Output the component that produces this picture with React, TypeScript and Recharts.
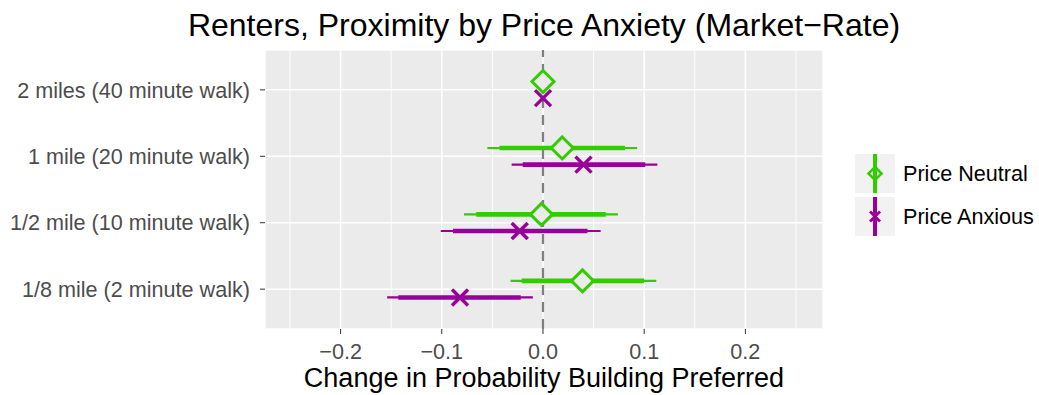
import React from 'react';
import { ScatterChart, Scatter, XAxis, YAxis, ErrorBar, ReferenceLine, CartesianGrid } from 'recharts';

// bottom to top, positions 1..4 on the y scale
const categories = [
  '1/8 mile (2 minute walk)',
  '1/2 mile (10 minute walk)',
  '1 mile (20 minute walk)',
  '2 miles (40 minute walk)',
];

// Price Neutral
const neutralEst = [0.039, -0.0015, 0.019, 0];
const neutralLo95 = [-0.032, -0.078, -0.055, 0];
const neutralHi95 = [0.112, 0.074, 0.093, 0];
const neutralLo90 = [-0.021, -0.066, -0.043, 0];
const neutralHi90 = [0.1, 0.062, 0.081, 0];

// Price Anxious
const anxiousEst = [-0.082, -0.023, 0.04, 0];
const anxiousLo95 = [-0.154, -0.101, -0.031, 0];
const anxiousHi95 = [-0.01, 0.057, 0.113, 0];
const anxiousLo90 = [-0.143, -0.089, -0.02, 0];
const anxiousHi90 = [-0.022, 0.044, 0.101, 0];

const xTicks = [-0.2, -0.1, 0, 0.1, 0.2];
const xMinor = [-0.25, -0.15, -0.05, 0.05, 0.15, 0.25];

const GREEN = '#33CC00';
const PURPLE = '#990099';
const FONT = '"Liberation Sans", Arial, Helvetica, sans-serif';
const DODGE = 0.125;

const buildSeries = (est: number[], lo95: number[], hi95: number[], lo90: number[], hi90: number[], offset: number) =>
  categories.map((c, i) => ({
    name: c,
    y: i + 1 + offset,
    x: est[i],
    wide: [est[i] - lo95[i], hi95[i] - est[i]],
    narrow: [est[i] - lo90[i], hi90[i] - est[i]],
  }));

const neutralData = buildSeries(neutralEst, neutralLo95, neutralHi95, neutralLo90, neutralHi90, DODGE);
const anxiousData = buildSeries(anxiousEst, anxiousLo95, anxiousHi95, anxiousLo90, anxiousHi90, -DODGE);

const Diamond = (props: any) => {
  const { cx, cy } = props;
  const r = 11;
  return (
    <polygon
      points={`${cx},${cy - r} ${cx + r},${cy} ${cx},${cy + r} ${cx - r},${cy}`}
      fill="#EBEBEB"
      stroke={GREEN}
      strokeWidth={3}
    />
  );
};

const Cross = (props: any) => {
  const { cx, cy } = props;
  const r = 8;
  return (
    <g stroke={PURPLE} strokeWidth={3.4}>
      <line x1={cx - r} y1={cy - r} x2={cx + r} y2={cy + r} />
      <line x1={cx - r} y1={cy + r} x2={cx + r} y2={cy - r} />
    </g>
  );
};

const legendItems = [
  { name: 'Price Neutral', color: GREEN, kind: 'diamond' },
  { name: 'Price Anxious', color: PURPLE, kind: 'cross' },
];

// legend drawn next to the panel, like ggplot's guide
const LegendBox = () => (
  <div
    style={{
      position: 'absolute',
      left: 855,
      top: 154,
      display: 'flex',
      flexDirection: 'column',
      gap: 4,
      fontFamily: FONT,
      fontSize: 21.6,
      color: '#000',
    }}
  >
    {legendItems.map((it) => (
      <div key={it.name} style={{ display: 'flex', alignItems: 'center', whiteSpace: 'nowrap' }}>
        <svg width={40} height={39} style={{ display: 'block' }}>
          <rect width={40} height={39} fill="#F2F2F2" />
          <line x1={20} x2={20} y1={0} y2={39} stroke={it.color} strokeWidth={4} />
          {it.kind === 'diamond' ? (
            <polygon points="20,13 26.5,19.5 20,26 13.5,19.5" fill="none" stroke={it.color} strokeWidth={2.6} />
          ) : (
            <g stroke={it.color} strokeWidth={2.8}>
              <line x1={15} y1={14.5} x2={25} y2={24.5} />
              <line x1={15} y1={24.5} x2={25} y2={14.5} />
            </g>
          )}
        </svg>
        <span style={{ marginLeft: 8 }}>{it.name}</span>
      </div>
    ))}
  </div>
);

export default function App() {
  return (
    <div style={{ position: 'absolute', left: 0, top: 0, width: 1039, height: 395, background: '#fff' }}>
      <div
        style={{
          position: 'absolute',
          left: -56,
          width: 1200,
          top: 9,
          textAlign: 'center',
          fontFamily: FONT,
          fontSize: 32,
          lineHeight: 1,
          whiteSpace: 'nowrap',
          color: '#000',
        }}
      >
        Renters, Proximity by Price Anxiety (Market−Rate)
      </div>
      <ScatterChart width={1039} height={395} margin={{ top: 50, right: 216, bottom: 0, left: 0 }}>
        <CartesianGrid fill="#EBEBEB" stroke="#FFFFFF" strokeWidth={1.5} />
        {xMinor.map((v) => (
          <ReferenceLine key={v} x={v} stroke="#FFFFFF" strokeWidth={0.9} />
        ))}
        <ReferenceLine x={0} stroke="#7F7F7F" strokeWidth={2.2} strokeDasharray="10 7" />
        <XAxis
          type="number"
          dataKey="x"
          domain={[-0.2747, 0.2767]}
          allowDataOverflow
          ticks={xTicks}
          tickFormatter={(v: number) => (v < 0 ? '−' + Math.abs(v).toFixed(1) : v.toFixed(1))}
          height={66}
          axisLine={false}
          tickSize={5}
          tickMargin={10}
          tickLine={{ stroke: '#333333', strokeWidth: 1 }}
          tick={{ fill: '#4D4D4D', fontSize: 21.6, fontFamily: FONT }}
          label={{
            value: 'Change in Probability Building Preferred',
            position: 'insideBottom',
            offset: 8,
            fill: '#000',
            fontSize: 27,
            fontFamily: FONT,
          }}
        />
        <YAxis
          type="number"
          dataKey="y"
          domain={[0.4, 4.6]}
          allowDataOverflow
          ticks={[1, 2, 3, 4]}
          tickFormatter={(v: number) => categories[Math.round(v) - 1] ?? ''}
          width={265}
          axisLine={false}
          tickSize={5}
          tickMargin={10}
          tickLine={{ stroke: '#333333', strokeWidth: 1 }}
          tick={{ fill: '#4D4D4D', fontSize: 21.6, fontFamily: FONT }}
        />
        <Scatter name="Price Anxious" data={anxiousData} shape={Cross} isAnimationActive={false}>
          <ErrorBar dataKey="wide" direction="x" width={0} stroke={PURPLE} strokeWidth={2.2} isAnimationActive={false} />
          <ErrorBar dataKey="narrow" direction="x" width={0} stroke={PURPLE} strokeWidth={4.6} isAnimationActive={false} />
        </Scatter>
        <Scatter name="Price Neutral" data={neutralData} shape={Diamond} isAnimationActive={false}>
          <ErrorBar dataKey="wide" direction="x" width={0} stroke={GREEN} strokeWidth={2.2} isAnimationActive={false} />
          <ErrorBar dataKey="narrow" direction="x" width={0} stroke={GREEN} strokeWidth={4.6} isAnimationActive={false} />
        </Scatter>
      </ScatterChart>
      <LegendBox />
    </div>
  );
}
